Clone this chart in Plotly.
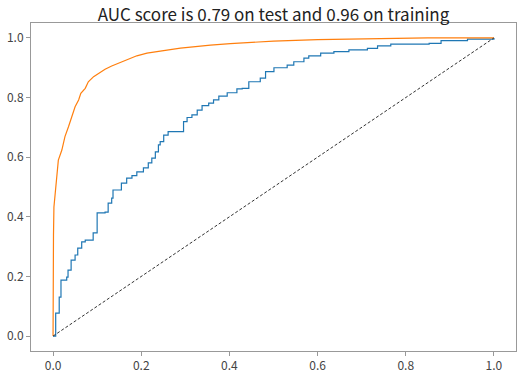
import plotly.graph_objects as go

# Test ROC curve (blue)
test_fpr = [0.0, 0.006, 0.014, 0.018, 0.031, 0.034, 0.041, 0.05, 0.056, 0.065, 0.073,
            0.091, 0.1, 0.118, 0.125, 0.133, 0.136, 0.155, 0.167, 0.179, 0.19, 0.205,
            0.216, 0.224, 0.232, 0.239, 0.243, 0.251, 0.261, 0.296, 0.304, 0.315, 0.327,
            0.338, 0.353, 0.364, 0.376, 0.395, 0.417, 0.429, 0.444, 0.47, 0.482, 0.501,
            0.531, 0.546, 0.569, 0.58, 0.607, 0.637, 0.671, 0.713, 0.736, 0.766, 0.853,
            0.88, 0.94, 1.0]
test_tpr = [0.0, 0.077, 0.131, 0.188, 0.198, 0.221, 0.255, 0.272, 0.295, 0.316, 0.322,
            0.346, 0.413, 0.416, 0.446, 0.463, 0.49, 0.513, 0.53, 0.538, 0.551, 0.564,
            0.581, 0.597, 0.618, 0.641, 0.652, 0.674, 0.686, 0.719, 0.733, 0.742, 0.758,
            0.773, 0.781, 0.792, 0.805, 0.816, 0.829, 0.831, 0.853, 0.865, 0.887, 0.9,
            0.909, 0.92, 0.932, 0.94, 0.949, 0.954, 0.96, 0.965, 0.973, 0.979, 0.982,
            0.991, 0.996, 1.0]

# Training ROC curve (orange)
train_fpr = [0.0, 0.0, 0.001, 0.002, 0.007, 0.012, 0.02, 0.027, 0.035, 0.042, 0.05,
             0.058, 0.063, 0.073, 0.08, 0.092, 0.103, 0.118, 0.133, 0.164, 0.19, 0.213,
             0.24, 0.266, 0.289, 0.32, 0.357, 0.402, 0.45, 0.5, 0.6, 0.698, 0.766, 0.85, 1.0]
train_tpr = [0.0, 0.33, 0.34, 0.433, 0.523, 0.59, 0.624, 0.669, 0.702, 0.736, 0.769,
             0.792, 0.814, 0.831, 0.853, 0.87, 0.881, 0.895, 0.906, 0.924, 0.94, 0.949,
             0.956, 0.961, 0.966, 0.971, 0.976, 0.981, 0.985, 0.989, 0.994, 0.996, 0.999, 1.0, 1.0]

diag = [0.0, 1.0]
tick_vals = [0.0, 0.2, 0.4, 0.6, 0.8, 1.0]
title_text = "AUC score is 0.79 on test and 0.96 on training"

fig = go.Figure()
fig.add_trace(go.Scatter(x=test_fpr, y=test_tpr, mode="lines", line_shape="hv",
                         line=dict(color="#1f77b4", width=1.2)))
fig.add_trace(go.Scatter(x=train_fpr, y=train_tpr, mode="lines",
                         line=dict(color="#ff7f0e", width=1.2)))
fig.add_trace(go.Scatter(x=diag, y=diag, mode="lines",
                         line=dict(color="#333333", width=1, dash="3px,2px")))

axis_common = dict(showgrid=False, zeroline=False, showline=True, mirror=True,
                   linecolor="#999999", linewidth=1, ticks="outside", ticklen=4,
                   tickcolor="#999999", tickvals=tick_vals, tickformat=".1f",
                   automargin=False,
                   tickfont=dict(family="Noto Sans CJK SC, DejaVu Sans", size=12, color="#444444"))

fig.update_layout(
    width=532, height=378,
    margin=dict(l=31, r=16, t=23, b=27, autoexpand=False),
    paper_bgcolor="white", plot_bgcolor="white",
    showlegend=False,
    hovermode=False,
    title=dict(text=title_text, x=0.5, xanchor="center", xref="paper",
               y=0.977, yref="container", yanchor="top", automargin=False,
               font=dict(family="Noto Sans CJK SC, DejaVu Sans", size=17, color="#222222")),
    xaxis=dict(range=[-0.05, 1.05], **axis_common),
    yaxis=dict(range=[-0.05, 1.05], **axis_common),
)

fig.write_html("out.html", config={"displayModeBar": False, "staticPlot": True},
               post_script="document.body.style.margin='0';")
